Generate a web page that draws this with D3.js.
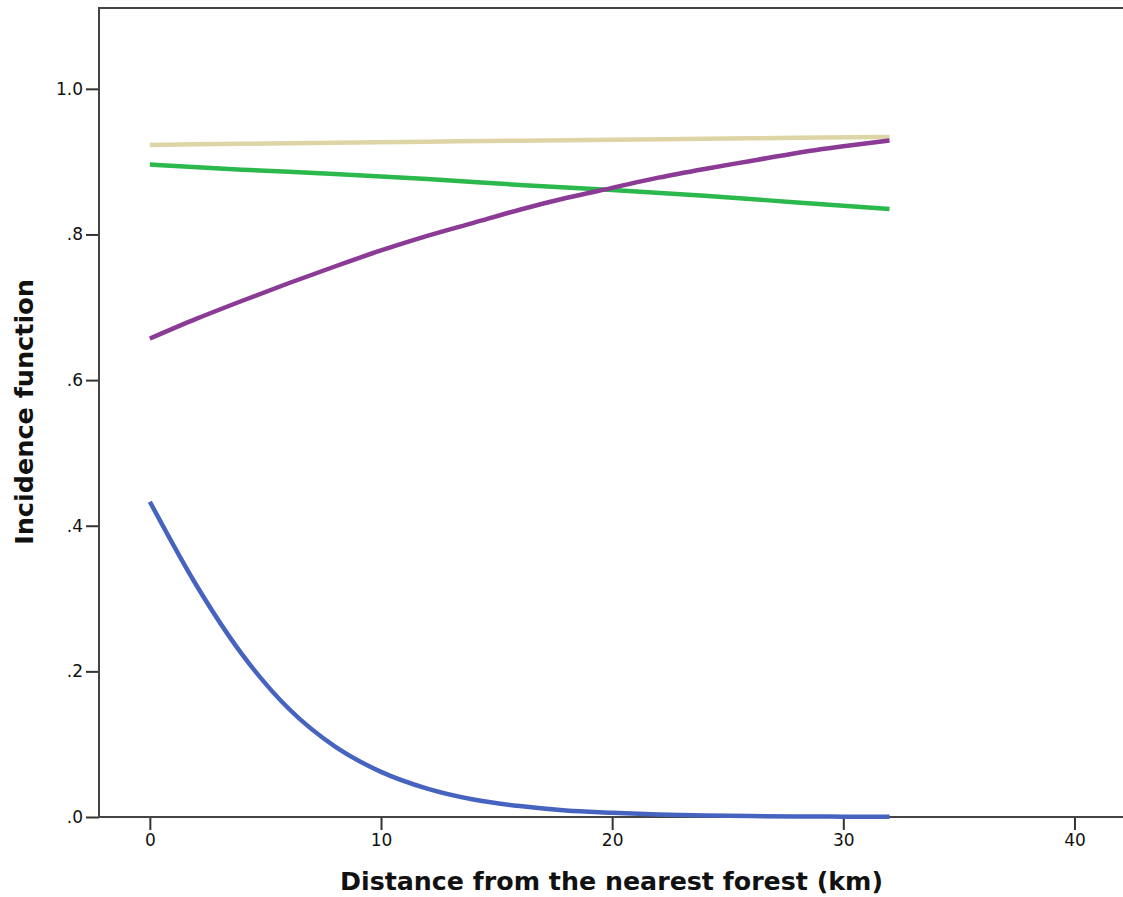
<!DOCTYPE html>
<html>
<head>
<meta charset="utf-8">
<script src="https://cdn.jsdelivr.net/npm/d3@7"></script>
<style>
  body { margin: 0; background: #fff; }
  text { font-family: "DejaVu Sans", sans-serif; }
</style>
</head>
<body>
<svg width="1123" height="897"></svg>
<script>
'use strict';

var distFine = [0, 2, 4, 6, 8, 10, 12, 14, 16, 18, 20, 22, 24, 26, 28, 30, 32];
var distCoarse = [0, 4, 8, 12, 16, 20, 24, 28, 32];

// incidence values
var blueVals = [0.433, 0.319, 0.223, 0.149, 0.097, 0.062, 0.039, 0.024, 0.015,
    0.009, 0.006, 0.0035, 0.002, 0.0013, 0.0008, 0.0005, 0.0003];
var purpleVals = [0.657, 0.684, 0.709, 0.733, 0.756, 0.778, 0.798, 0.816, 0.834,
    0.850, 0.864, 0.878, 0.890, 0.901, 0.912, 0.921, 0.929];
var greenVals = [0.896, 0.889, 0.883, 0.876, 0.868, 0.861, 0.853, 0.844, 0.835];
var tanVals = [0.923, 0.9245, 0.926, 0.9274, 0.9288, 0.930, 0.9314, 0.9327, 0.934];

var xTicks = [0, 10, 20, 30, 40];
var yTicks = [0, 0.2, 0.4, 0.6, 0.8, 1.0];

var svg = d3.select('svg');

var pLeft = 99, pRight = 1123, pTop = 8, pBottom = 817;

var x = d3.scaleLinear().domain([-2.2, 42.1]).range([pLeft, pRight]);
var y = d3.scaleLinear().domain([0, 1.111]).range([pBottom, pTop]);

function yFmt(d) {
    return d >= 1 ? d.toFixed(1) : d.toFixed(1).replace(/^0/, '');
}

// 坐标轴
var gy = svg.append('g')
    .attr('transform', 'translate(' + pLeft + ',0)')
    .call(d3.axisLeft(y).tickValues(yTicks).tickSize(13).tickPadding(3).tickFormat(yFmt));
var gx = svg.append('g')
    .attr('transform', 'translate(0,' + pBottom + ')')
    .call(d3.axisBottom(x).tickValues(xTicks).tickSize(13).tickPadding(4).tickFormat(d3.format('d')));

[gx, gy].forEach(function (g) {
    g.select('.domain').remove();
    g.selectAll('.tick line').attr('stroke', '#333').attr('stroke-width', 2);
    g.selectAll('.tick text').attr('fill', '#111')
        .style('font-family', '"DejaVu Sans", sans-serif')
        .style('font-size', '17px');
});

// 边框
svg.append('path')
    .attr('d', 'M' + pRight + ',' + pTop + ' L' + pLeft + ',' + pTop + ' L' + pLeft + ',' + pBottom + ' L' + pRight + ',' + pBottom)
    .attr('fill', 'none')
    .attr('stroke', '#444')
    .attr('stroke-width', 2);

// 曲线
var series = [
    { xs: distCoarse, ys: tanVals, color: '#ddd5a6' },
    { xs: distCoarse, ys: greenVals, color: '#2bb84c' },
    { xs: distFine, ys: purpleVals, color: '#8b3a95' },
    { xs: distFine, ys: blueVals, color: '#4664bf' }
];

var line = d3.line()
    .x(function (d) { return x(d[0]); })
    .y(function (d) { return y(d[1]); })
    .curve(d3.curveMonotoneX);

svg.append('g')
    .selectAll('path')
    .data(series)
    .enter()
    .append('path')
    .attr('d', function (s) {
        return line(s.xs.map(function (v, i) { return [v, s.ys[i]]; }));
    })
    .attr('fill', 'none')
    .attr('stroke', function (s) { return s.color; })
    .attr('stroke-width', 4.5);

// 轴标题
svg.append('text')
    .text('Distance from the nearest forest (km)')
    .attr('x', (340 + 883) / 2)
    .attr('y', 890)
    .attr('text-anchor', 'middle')
    .style('font-weight', 'bold')
    .style('font-size', '25.3px')
    .attr('fill', '#111');

svg.append('text')
    .text('Incidence function')
    .attr('transform', 'translate(33,412) rotate(-90)')
    .attr('text-anchor', 'middle')
    .style('font-weight', 'bold')
    .style('font-size', '25.5px')
    .attr('fill', '#111');
</script>
</body>
</html>
